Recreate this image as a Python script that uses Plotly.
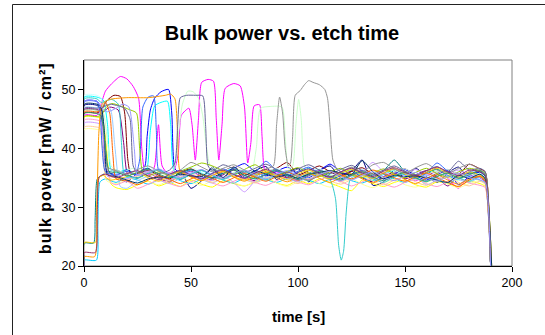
import plotly.graph_objects as go

FONT = "Liberation Sans, Arial, sans-serif"

# common sampling grid of the flat (baseline) part, seconds
GRID = [10, 15, 20, 25, 30, 35, 40, 45, 50, 55,
        60, 65, 70, 75, 80, 85, 90, 95, 100, 105,
        110, 115, 120, 125, 130, 135, 140, 145, 150, 155,
        160, 165, 170, 175, 180, 185]

X_TICKS = [0, 50, 100, 150, 200]
Y_TICKS = [20, 30, 40, 50]

# ---------------- series data (time [s] / bulk power [mW/cm2]) ----------------
navy_head_t = [0, 0.15, 6, 8, 10, 11.5]
navy_head_v = [20, 47.3, 47.3, 46.5, 41, 36]
navy_base = [35.2, 34.3, 35.8, 36.6, 35.0,
             34.4, 36.0, 33.2, 34.5, 36.8,
             35.0, 36.4, 34.8, 36.2, 36.9,
             34.7, 35.9, 36.6, 34.3, 36.2,
             37.0, 35.0, 36.1, 38.0, 33.7,
             34.3, 36.3, 35.0, 36.6, 35.2,
             34.2, 35.8, 36.8, 34.8, 36.0]
navy_end = [34.5, 20]

magenta_head_t = [0, 0.15, 6, 8, 10, 13, 17, 20, 23, 25.5,
                  27, 28.5, 31, 33, 34.8, 36.5, 39, 42, 44, 45.5,
                  49, 50.5, 52, 53.5, 55, 58, 60.5, 61.8, 63, 64.5,
                  66, 70, 73, 75, 76.5, 78, 79.5, 82, 83.2, 84.5,
                  87]
magenta_head_v = [20, 45.6, 45.6, 47.5, 49.7, 51.0, 52.2, 51.8, 50.5, 48.5,
                  40, 36, 35.5, 37, 44, 37, 35.8, 36.2, 39, 45.6,
                  46.8, 44, 38, 45, 51.2, 51.7, 51.4, 45, 38, 44,
                  50.2, 51.0, 50.6, 47, 37.5, 41, 47.2, 47.4, 42, 36.2,
                  35.6]
magenta_base = [36.0, 35.2, 34.6, 35.5, 36.2,
                35.0, 34.4, 35.3, 36.0, 34.8,
                35.6, 36.3, 35.1, 34.5, 35.4,
                36.0, 34.9, 33.2, 35.3, 35.0]
magenta_end = [34.2, 20]

yellow_head_t = [0, 0.15, 6, 8.5, 10.5, 12.5]
yellow_head_v = [20, 45.3, 45.3, 45, 40, 34]
yellow_base = [33.3, 33.0, 33.8, 34.4, 33.6,
               34.2, 33.5, 34.6, 33.9, 33.4,
               34.5, 34.0, 33.6, 34.3, 35.0,
               34.1, 33.7, 34.5, 34.0, 34.8,
               34.1, 33.4, 32.8, 34.6, 34.0,
               33.5, 34.2, 34.6, 33.8, 33.4,
               34.3, 34.0, 33.5, 34.4, 34.0]
yellow_end = [33.5, 20]

cyan_head_t = [0, 0.15, 6, 9, 11, 12.5, 15, 20, 25, 29,
               31, 33, 36, 39, 40.5, 42, 45, 50]
cyan_head_v = [20, 48.7, 48.7, 48.2, 44, 36.5, 35.8, 36.4, 35.5, 36,
               43, 47.2, 47.8, 48.0, 44, 36.2, 35.4, 36.3]
cyan_base = [35.8, 35.0, 35.9, 36.6, 35.4,
             34.8, 35.7, 36.4, 35.2, 35.9,
             36.6, 35.5, 34.9, 35.8, 36.3,
             35.1, 34.5, 35.6, 36.2, 35.4,
             34.8, 35.7, 36.5, 35.3, 34.7,
             35.9, 35.6]
cyan_end = [34.8, 20]

purple_head_t = [0, 0.15, 6, 9, 12, 16, 18.5, 20.5]
purple_head_v = [20, 46.6, 46.6, 46.2, 47, 46.5, 41, 35.5]
purple_base = [35.0, 35.8, 34.9, 34.3, 35.4,
               36.1, 35.2, 34.6, 35.5, 36.3,
               35.1, 34.5, 35.6, 36.2, 35.0,
               34.4, 35.3, 36.0, 34.7, 35.4,
               36.1, 35.0, 34.3, 35.2, 35.9,
               34.8, 35.5, 36.2, 35.0, 33.6,
               35.3, 35.8, 35.0]
purple_end = [34.3, 20]

maroon_head_t = [0, 0.15, 6, 8, 11, 14, 17, 19, 20.5, 22]
maroon_head_v = [20, 46.0, 46.0, 46.5, 48.2, 49.0, 48.8, 46, 38, 35.6]
maroon_base = [36.2, 35.4, 34.8, 35.9, 36.5,
               35.6, 35.0, 36.1, 36.8, 35.7,
               35.2, 36.0, 36.6, 37.6, 35.5,
               36.2, 37.0, 36.0, 35.3, 36.1,
               36.7, 35.6, 35.0, 35.9, 36.5,
               35.5, 34.9, 35.8, 36.4, 35.6,
               37.3, 36.5]
maroon_end = [36.0, 20]

teal_head_t = [0, 0.15, 4.5, 5.2, 6.2, 8]
teal_head_v = [20, 23.9, 23.9, 28, 34.8, 35.3]
teal_base = [35.8, 36.3, 35.5, 34.9, 35.8, 36.4,
             35.2, 34.7, 35.6, 36.3, 35.4,
             34.8, 35.7, 36.2, 35.0, 35.5,
             36.3, 35.6, 34.9, 35.8, 36.4,
             35.5, 34.8, 35.6, 36.0, 35.3,
             36.2, 38.0, 36.0, 35.2, 35.9,
             36.4, 35.4, 34.8, 35.7, 36.0]
teal_end = [35.0, 20]

blue_head_t = [0, 0.15, 6, 7.5, 9, 10.5, 15, 20, 25, 28.5,
               29.5, 31, 33, 36, 39.5, 41, 42.5]
blue_head_v = [20, 48.0, 48.0, 47.2, 42, 36.2, 35.5, 36.3, 35.4, 37,
               42, 46.5, 48.5, 49.6, 50.0, 46, 36.5]
blue_base = [35.8, 36.4, 35.5, 34.9, 35.8,
             36.6, 37.4, 36.0, 35.3, 36.1,
             36.8, 35.6, 35.0, 36.2, 37.3,
             36.0, 35.4, 36.3, 35.5, 34.8,
             35.7, 36.4, 35.3, 34.6, 35.5,
             36.2, 33.8, 35.2, 36.0]
blue_end = [35.2, 20]

sky_head_t = [0, 0.15, 5.8, 6.5, 7.5]
sky_head_v = [20, 21.0, 21.0, 27, 34.3]
sky_base = [34.8, 34.2, 35.0, 34.6, 33.9, 34.7,
            35.3, 34.5, 34.0, 34.8, 35.4,
            34.6, 34.1, 35.0, 35.6, 34.7,
            34.2, 34.9, 35.5, 34.6, 34.0,
            34.8, 35.4, 34.5, 34.1, 34.9,
            35.6, 34.8, 34.2, 35.0, 35.5,
            34.6, 34.1, 34.9, 35.3, 34.6]
sky_end = [34.0, 20]

lturq_head_t = [0, 0.15, 6, 8, 9.5, 11]
lturq_head_v = [20, 49.0, 49.0, 48.5, 42, 36.5]
lturq_base = [36.2, 35.6, 36.3, 36.9, 36.0,
              35.4, 36.2, 36.8, 35.9, 35.3,
              36.1, 36.7, 35.8, 35.2, 36.0,
              36.6, 35.7, 35.1, 35.9, 36.5,
              35.6, 35.0, 35.8, 36.4, 35.5,
              35.0, 35.9, 36.5, 35.6, 35.1,
              35.9, 36.4, 35.5, 35.0, 35.8]
lturq_end = [35.0, 20]

lgreen_head_t = [0, 0.15, 6, 9, 11, 13, 18, 23, 28, 33,
                 38, 42, 44, 46, 48.5, 51, 53.5, 55.5, 57, 59,
                 63, 68, 73, 78, 80.5, 82.5, 87, 92.5, 94, 95.5,
                 97.5, 99, 100.3, 101.5, 103, 105]
lgreen_head_v = [20, 46.4, 46.4, 46, 41, 36.8, 36.0, 36.6, 35.7, 36.3,
                 35.5, 36.4, 42, 47.5, 49.7, 49.6, 48.5, 45.5, 41, 37,
                 36.2, 35.6, 36.4, 35.8, 40, 46.8, 47.1, 47.0, 42, 36.5,
                 37, 44, 48.3, 45, 37, 36.2]
lgreen_base = [36.0, 35.3, 35.9, 36.5, 35.4,
               34.8, 35.7, 36.3, 35.2, 34.6,
               35.5, 36.1, 35.0, 34.5, 35.6,
               35.2]
lgreen_end = [34.6, 20]

lyellow_head_t = [0, 0.15, 6, 7.5, 9, 10.5]
lyellow_head_v = [20, 43.2, 43.2, 43, 38, 34.5]
lyellow_base = [34.0, 34.7, 35.3, 34.4, 33.8,
                34.6, 35.2, 34.3, 33.7, 34.5,
                35.1, 34.2, 33.6, 34.4, 35.0,
                34.1, 33.5, 34.3, 34.9, 34.0,
                33.4, 34.2, 34.8, 33.9, 33.3,
                34.1, 34.7, 33.8, 33.4, 34.2,
                34.8, 33.9, 33.3, 34.0, 34.5]
lyellow_end = [33.8, 20]

pblue_head_t = [0, 0.15, 6, 8, 10, 12.5, 14.5, 17, 20]
pblue_head_v = [20, 46.9, 46.9, 47.2, 47.5, 46.5, 40, 33.5, 33.2]
pblue_base = [34.5, 35.2, 34.6, 34.0, 34.9,
              35.5, 34.7, 34.1, 35.0, 35.6,
              34.8, 34.2, 35.1, 35.7, 34.9,
              34.3, 35.2, 35.8, 35.0, 34.4,
              35.3, 35.9, 35.1, 34.5, 35.4,
              36.0, 35.2, 33.8, 34.6, 35.3,
              34.7, 34.2, 35.0]
pblue_end = [34.3, 20]

rose_head_t = [0, 0.15, 6, 8, 10.5, 12.5]
rose_head_v = [20, 44.8, 44.8, 44.5, 38, 34.2]
rose_base = [33.8, 34.4, 33.2, 33.9, 34.6,
             34.0, 33.5, 34.3, 34.9, 34.1,
             33.6, 34.4, 35.0, 34.2, 33.7,
             34.5, 35.1, 34.3, 33.8, 34.6,
             35.2, 34.4, 33.6, 34.3, 34.9,
             34.0, 33.4, 34.2, 34.8, 34.0,
             33.5, 34.3, 34.9, 34.1, 33.7]
rose_end = [33.3, 20]

lav_head_t = [0, 0.15, 6, 8, 9.5, 11]
lav_head_v = [20, 44.3, 44.3, 44, 39, 35.2]
lav_base = [35.6, 34.8, 35.5, 36.1, 35.2,
            34.6, 35.4, 36.0, 35.1, 34.5,
            35.3, 34.2, 32.6, 34.5, 35.6,
            36.2, 35.3, 34.7, 35.5, 36.1,
            35.2, 34.6, 35.4, 36.0, 37.6,
            36.0, 35.2, 35.8, 36.4, 35.5,
            34.9, 35.7, 36.3, 35.4, 35.0]
lav_end = [34.6, 20]

tan_head_t = [0, 0.15, 6, 7.5, 9, 10.5]
tan_head_v = [20, 43.6, 43.6, 43.4, 39, 34.8]
tan_base = [35.2, 34.6, 35.3, 35.9, 35.0,
            34.4, 35.1, 35.7, 34.8, 34.2,
            35.0, 35.6, 34.7, 34.1, 34.9,
            35.5, 34.6, 34.0, 34.8, 35.4,
            34.5, 33.9, 34.7, 35.3, 34.4,
            33.8, 34.6, 35.2, 34.3, 33.7,
            34.5, 35.1, 34.2, 33.6, 34.4]
tan_end = [33.9, 20]

rblue_head_t = [0, 0.15, 6, 7.5, 8.5, 10, 15, 20, 24, 26,
                27.5, 30, 32.5, 33.8, 35, 40]
rblue_head_v = [20, 47.9, 47.9, 46, 40, 36, 35.4, 36.1, 35.5, 38,
                47, 48.7, 48.9, 43, 36.2, 35.6]
rblue_base = [36.3, 35.5, 34.9, 35.8, 36.5,
              35.6, 35.0, 35.9, 37.8, 36.2,
              35.4, 36.1, 36.8, 35.7, 35.1,
              36.0, 36.7, 35.6, 35.0, 35.8,
              36.5, 35.5, 34.9, 35.8, 37.5,
              36.1, 35.3, 36.0, 36.3]
rblue_end = [35.5, 20]

turq_head_t = [0, 0.15, 6, 8, 10, 13, 16, 17.5, 19]
turq_head_v = [20, 48.4, 48.4, 47.8, 48, 48.3, 47.5, 41, 35.5]
turq_base1 = [35.0, 35.7, 36.3, 35.4, 34.8,
              35.6, 36.2, 35.3, 34.7, 35.5,
              36.1, 35.2, 34.6, 35.4, 36.0,
              35.1, 34.5, 35.3, 34.6]
turq_dip_t = [117.5, 119, 120.2, 121.3, 122.5, 124]
turq_dip_v = [31.5, 23.5, 21.0, 22.5, 29, 34.3]
turq_base2 = [35.0, 35.6, 34.8, 34.2, 35.1,
              35.7, 34.9, 34.3, 35.2, 35.8,
              35.0, 34.4, 35.2]
turq_end = [34.5, 20]

green_head_t = [0, 0.15, 6, 8, 10, 13, 17, 21, 24.5, 26, 27.5]
green_head_v = [20, 45.4, 45.4, 45.6, 46.8, 47.6, 47.2, 46.6, 46.0, 40, 35.8]
green_base = [35.3, 36.0, 35.4, 36.1, 36.8,
              37.5, 37.0, 36.2, 35.6, 36.4,
              37.2, 36.0, 35.4, 36.1, 36.7,
              35.8, 35.2, 36.0, 36.6, 35.5,
              35.0, 35.8, 36.5, 35.6, 35.0,
              35.9, 36.6, 35.7, 35.1, 36.0,
              36.6, 36.2]
green_end = [35.8, 20]

gold_head_t = [0, 0.15, 5.3, 6, 7, 9, 12]
gold_head_v = [20, 24.0, 24.0, 30, 35.0, 35.4, 34.6]
gold_base = [35.2, 35.9, 35.0, 34.4, 35.3,
             36.0, 35.1, 34.5, 35.4, 36.1,
             35.2, 34.6, 35.5, 36.2, 35.3,
             34.7, 35.6, 36.3, 35.4, 34.8,
             35.7, 36.4, 35.5, 34.9, 35.8,
             36.5, 35.6, 35.0, 35.9, 36.6,
             35.7, 35.1, 36.0, 35.4]
gold_end = [34.8, 20]

orange_head_t = [0, 0.15, 5.0, 6.0, 7.0, 8.5, 12, 20, 30, 38,
                 40.5, 42.5, 43.8, 45]
orange_head_v = [20, 21.6, 21.6, 30, 43, 47.5, 48.3, 48.6, 48.6, 49.0,
                 49.2, 48.4, 42, 36.0]
orange_base = [35.2, 34.5, 35.4, 36.0, 35.1,
               34.4, 35.3, 35.9, 35.0, 34.3,
               35.2, 35.8, 34.9, 34.2, 35.1,
               35.7, 34.8, 34.1, 35.0, 35.6,
               34.7, 34.0, 34.9, 35.5, 34.6,
               33.9, 34.8, 35.3]
orange_end = [34.6, 20]

rorange_head_t = [0, 0.15, 6, 8, 10, 12, 13.5, 15]
rorange_head_v = [20, 46.2, 46.2, 46.5, 47.8, 46, 39, 34.8]
rorange_base = [34.5, 33.8, 34.6, 35.3, 34.7,
                34.0, 34.8, 35.5, 34.9, 34.2,
                35.0, 35.7, 35.1, 34.4, 35.2,
                35.9, 35.3, 34.6, 35.4, 36.1,
                35.5, 34.8, 35.6, 36.3, 35.7,
                35.0, 34.4, 35.2, 35.8, 35.0,
                34.2, 33.5, 34.6, 35.2]
rorange_end = [34.3, 20]

slate_head_t = [0, 0.15, 6, 9, 12, 16, 19, 21.5, 23, 25,
                30, 35, 40, 42.5, 43.8, 45, 48, 52, 55.5, 56.8,
                58, 60]
slate_head_v = [20, 46.8, 46.8, 47, 47.5, 47.2, 46.8, 45, 37, 35.8,
                36.4, 35.7, 36.3, 37.5, 44, 48.6, 49.0, 49.0, 48.9, 44,
                37, 36.2]
slate_base = [37.2, 36.5, 35.9, 36.6, 37.3,
              36.4, 35.8, 36.5, 37.2, 36.3,
              35.7, 36.4, 37.1, 36.2, 35.6,
              36.3, 37.0, 36.1, 35.5, 36.2,
              36.9, 36.0, 37.8, 36.3, 36.6]
slate_end = [36.0, 20]

gray_head_t = [0, 0.15, 6, 8, 9.5, 11, 15, 20, 25, 30,
               35, 40, 45, 50, 55, 60, 65, 70, 75, 80,
               85, 88.5, 90, 91.4, 92.8, 94, 95.5, 96.5, 97.5, 98.7,
               101, 103, 105, 107, 110, 112.5, 113.8, 115, 116.3, 118,
               120]
gray_head_v = [20, 46.5, 46.5, 46.2, 42, 36.8, 36.2, 35.6, 36.4, 37.0,
               36.1, 35.5, 36.3, 37.6, 36.8, 36.0, 36.6, 37.2, 36.3, 35.7,
               36.5, 37, 44, 48.7, 46, 40, 37, 37.5, 42, 49,
               49.8, 50.8, 51.5, 51.2, 50.8, 50.0, 48.5, 43.5, 38, 36.6,
               36.0]
gray_base = [36.8, 36.0, 37.2, 37.6, 36.5,
             35.8, 36.7, 37.4, 36.3, 35.7,
             36.6, 37.3, 36.4]
gray_end = [35.6, 20]

dnavy_head_t = [0, 0.15, 6, 8, 9.5, 11]
dnavy_head_v = [20, 47.5, 47.5, 47, 43, 35.5]
dnavy_base = [35.2, 34.6, 34.1, 34.8, 35.1,
              35.0, 35.6, 35.3, 35.2, 36.5,
              35.0, 36.8, 35.4, 36.2, 35.6,
              35.1, 35.5, 34.9, 35.6, 35.9,
              36.2, 35.8, 35.5, 37.9, 36.0,
              34.8, 35.4, 35.2, 35.3, 35.0,
              34.6, 34.2, 35.4, 34.9, 35.6]
dnavy_end = [34.8, 20]

sea_head_t = [0, 0.15, 6, 8, 10, 12]
sea_head_v = [20, 45.9, 45.9, 45.5, 40, 35.8]
sea_base = [36.0, 35.3, 35.9, 36.5, 35.6,
            35.0, 35.8, 36.4, 35.5, 34.9,
            35.7, 36.3, 35.4, 34.8, 35.6,
            36.2, 35.3, 34.7, 35.5, 36.1,
            35.2, 34.6, 35.4, 36.0, 35.1,
            34.5, 35.3, 35.9, 35.0, 34.4,
            35.2, 35.8, 34.9, 35.5, 36.2]
sea_end = [35.4, 20]

plum_head_t = [0, 0.15, 5.3, 6.2, 7.2]
plum_head_v = [20, 22.3, 22.3, 29, 35.2]
plum_base = [35.6, 35.0, 35.7, 36.2, 35.3, 34.7,
             35.6, 36.2, 35.4, 34.8, 35.7,
             36.3, 35.5, 34.9, 35.8, 36.4,
             35.6, 35.0, 35.9, 36.5, 35.7,
             35.1, 36.0, 36.6, 35.8, 35.2,
             36.1, 36.7, 35.9, 35.3, 36.2,
             36.8, 36.0, 35.4, 36.3, 36.0]
plum_end = [35.3, 20]

peri_head_t = [0, 0.15, 6, 8, 11, 15, 18, 21, 23.5, 25]
peri_head_v = [20, 48.0, 48.0, 47, 46.2, 46.8, 47.5, 47, 40, 35.4]
peri_base = [35.9, 36.5, 35.6, 35.0, 35.8,
             36.4, 35.5, 34.9, 35.7, 36.3,
             35.4, 34.8, 35.6, 36.2, 35.3,
             34.7, 35.5, 36.1, 35.2, 34.6,
             35.4, 36.0, 35.1, 34.5, 35.3,
             35.9, 35.0, 34.4, 35.2, 35.8,
             35.0, 34.6]
peri_end = [34.2, 20]

END_T = [187.5, 190]
END_T2 = [187.5, 190.5]


def build(head_t, head_v, start, base_v, end_t, end_v):
    i = GRID.index(start)
    t = head_t + GRID[i:] + end_t
    v = head_v + base_v + end_v
    assert len(t) == len(v), (start, len(t), len(v))
    return t, v


series = [
    ("#000080", build(navy_head_t, navy_head_v, 15, navy_base, END_T, navy_end)),
    ("#FF00FF", build(magenta_head_t, magenta_head_v, 90, magenta_base, END_T, magenta_end)),
    ("#FFFF00", build(yellow_head_t, yellow_head_v, 15, yellow_base, END_T, yellow_end)),
    ("#00FFFF", build(cyan_head_t, cyan_head_v, 55, cyan_base, END_T2, cyan_end)),
    ("#800080", build(purple_head_t, purple_head_v, 25, purple_base, END_T, purple_end)),
    ("#800000", build(maroon_head_t, maroon_head_v, 30, maroon_base, END_T, maroon_end)),
    ("#008080", build(teal_head_t, teal_head_v, 10, teal_base, END_T, teal_end)),
    ("#0000FF", build(blue_head_t, blue_head_v, 45, blue_base, END_T, blue_end)),
    ("#00CCFF", build(sky_head_t, sky_head_v, 10, sky_base, END_T, sky_end)),
    ("#CCFFFF", build(lturq_head_t, lturq_head_v, 15, lturq_base, END_T, lturq_end)),
    ("#CCFFCC", build(lgreen_head_t, lgreen_head_v, 110, lgreen_base, END_T, lgreen_end)),
    ("#FFFF99", build(lyellow_head_t, lyellow_head_v, 15, lyellow_base, END_T, lyellow_end)),
    ("#99CCFF", build(pblue_head_t, pblue_head_v, 25, pblue_base, END_T, pblue_end)),
    ("#FF99CC", build(rose_head_t, rose_head_v, 15, rose_base, END_T, rose_end)),
    ("#CC99FF", build(lav_head_t, lav_head_v, 15, lav_base, END_T, lav_end)),
    ("#FFCC99", build(tan_head_t, tan_head_v, 15, tan_base, END_T, tan_end)),
    ("#3366FF", build(rblue_head_t, rblue_head_v, 45, rblue_base, END_T, rblue_end)),
    ("#33CCCC", (turq_head_t + GRID[3:22] + turq_dip_t + GRID[23:] + END_T,
                 turq_head_v + turq_base1 + turq_dip_v + turq_base2 + turq_end)),
    ("#99CC00", build(green_head_t, green_head_v, 30, green_base, END_T, green_end)),
    ("#FFCC00", build(gold_head_t, gold_head_v, 20, gold_base, END_T2, gold_end)),
    ("#FF9900", build(orange_head_t, orange_head_v, 50, orange_base, END_T2, orange_end)),
    ("#FF6600", build(rorange_head_t, rorange_head_v, 20, rorange_base, END_T, rorange_end)),
    ("#666699", build(slate_head_t, slate_head_v, 65, slate_base, END_T, slate_end)),
    ("#969696", build(gray_head_t, gray_head_v, 125, gray_base, END_T, gray_end)),
    ("#003366", build(dnavy_head_t, dnavy_head_v, 15, dnavy_base, END_T2, dnavy_end)),
    ("#339966", build(sea_head_t, sea_head_v, 15, sea_base, END_T, sea_end)),
    ("#993366", build(plum_head_t, plum_head_v, 10, plum_base, END_T, plum_end)),
    ("#9999FF", build(peri_head_t, peri_head_v, 30, peri_base, END_T, peri_end)),
]

fig = go.Figure()
for color, (t, v) in series:
    assert len(t) == len(v)
    fig.add_trace(go.Scatter(x=t, y=v, mode="lines",
                             line=dict(color=color, width=1, shape="spline", smoothing=0.6),
                             hoverinfo="skip", showlegend=False))

W, H = 545, 335
ML, MR, MT, MB = 84, 33, 60, 69
PW, PH = W - ML - MR, H - MT - MB

fig.update_layout(
    width=W, height=H,
    margin=dict(l=ML, r=MR, t=MT, b=MB, pad=0),
    paper_bgcolor="white", plot_bgcolor="white",
    font=dict(family=FONT, color="black", size=12),
    showlegend=False,
    title=dict(text="<b>Bulk power vs. etch time</b>", font=dict(size=20, family=FONT, color="black"),
               x=282 / W, xref="container", xanchor="center",
               y=1 - 33 / H, yref="container", yanchor="middle"),
    xaxis=dict(range=[0, 200], tickvals=X_TICKS, ticktext=[str(x) for x in X_TICKS],
               ticks="outside", ticklen=5, tickwidth=1, tickcolor="black",
               showline=True, linecolor="black", linewidth=1,
               showgrid=False, zeroline=False, tickfont=dict(size=12.5)),
    yaxis=dict(range=[20, 55], tickvals=Y_TICKS, ticktext=[str(y) for y in Y_TICKS],
               ticks="outside", ticklen=5, tickwidth=1, tickcolor="black",
               showline=True, linecolor="black", linewidth=1,
               showgrid=False, zeroline=False, tickfont=dict(size=12.5)),
    shapes=[
        dict(type="rect", xref="paper", yref="paper", x0=0, x1=1, y0=0, y1=1,
             line=dict(color="#808080", width=1), layer="below"),
        dict(type="rect", xref="paper", yref="paper",
             x0=(12.5 - ML) / PW, x1=1.5, y0=-1.0, y1=(H - MB - 4.5) / PH,
             line=dict(color="#222222", width=1), layer="below"),
    ],
    annotations=[
        dict(text="<b>time [s]</b>", xref="paper", yref="paper",
             x=0.5, y=-(316 - (H - MB)) / PH,
             xanchor="center", yanchor="middle", showarrow=False,
             font=dict(size=15, family=FONT, color="black")),
        dict(text='<b><span style="letter-spacing:1px">bulk power [mW / cm²]</span></b>',
             xref="paper", yref="paper", textangle=-90,
             x=(45 - ML) / PW, y=((H - MB) - 158) / PH,
             xanchor="center", yanchor="middle", showarrow=False,
             font=dict(size=16, family=FONT, color="black")),
    ],
)

fig.write_html("out.html",
               config={"displayModeBar": False, "staticPlot": True},
               post_script="document.body.style.margin='0';document.body.style.padding='0';")
